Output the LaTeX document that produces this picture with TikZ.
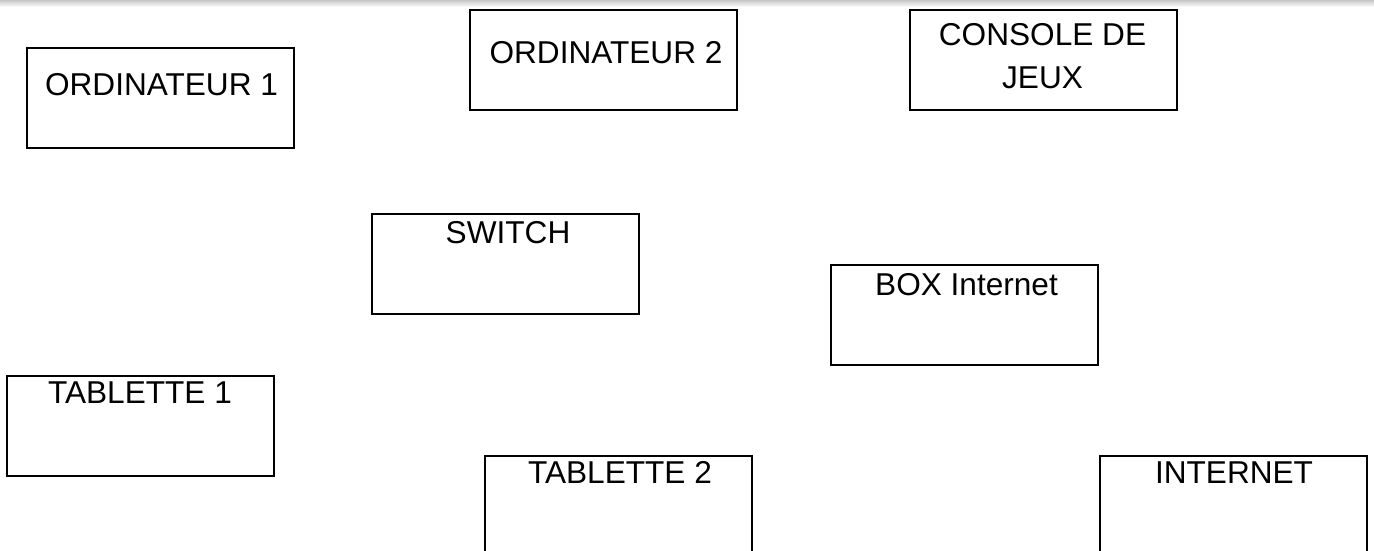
\documentclass[tikz,border=0pt]{standalone}
\usepackage{fontspec}
\setmainfont{Liberation Sans}
\begin{document}
\begin{tikzpicture}[x=0.75pt,y=-0.75pt,
  box/.style={draw=black,line width=1.6pt,rectangle,anchor=north west,minimum width=200.25pt,minimum height=75pt,inner sep=0pt,outer sep=0pt},
  txt/.style={anchor=base,inner sep=0pt,font=\fontsize{23.7pt}{32pt}\selectfont}]
\clip (0,0) rectangle (1374,550);
\fill[white] (0,0) rectangle (1374,550);
\shade[top color=black!22,bottom color=white] (0,0) rectangle (1374,7);
\node[box] (ord1) at (27,48) {};
\node[box] (ord2) at (470,10) {};
\node[box] (cons) at (910,10) {};
\node[box] (switch) at (372,214) {};
\node[box] (boxi) at (831,265) {};
\node[box] (tab1) at (7,376) {};
\node[box] (tab2) at (485,456) {};
\node[box] (inet) at (1100,456) {};
\node[txt] (tord1) at (161.5,95) {ORDINATEUR 1};
\node[txt] (tord2) at (606,63) {ORDINATEUR 2};
\node[txt] (tcons1) at (1042.5,45) {CONSOLE DE};
\node[txt] (tcons2) at (1042.5,88) {JEUX};
\node[txt] (tswitch) at (508,243) {SWITCH};
\node[txt] (tboxi) at (966.5,295) {BOX Internet};
\node[txt] (ttab1) at (140,403) {TABLETTE 1};
\node[txt] (ttab2) at (620,483) {TABLETTE 2};
\node[txt] (tinet) at (1234,483) {INTERNET};
\end{tikzpicture}
\end{document}
